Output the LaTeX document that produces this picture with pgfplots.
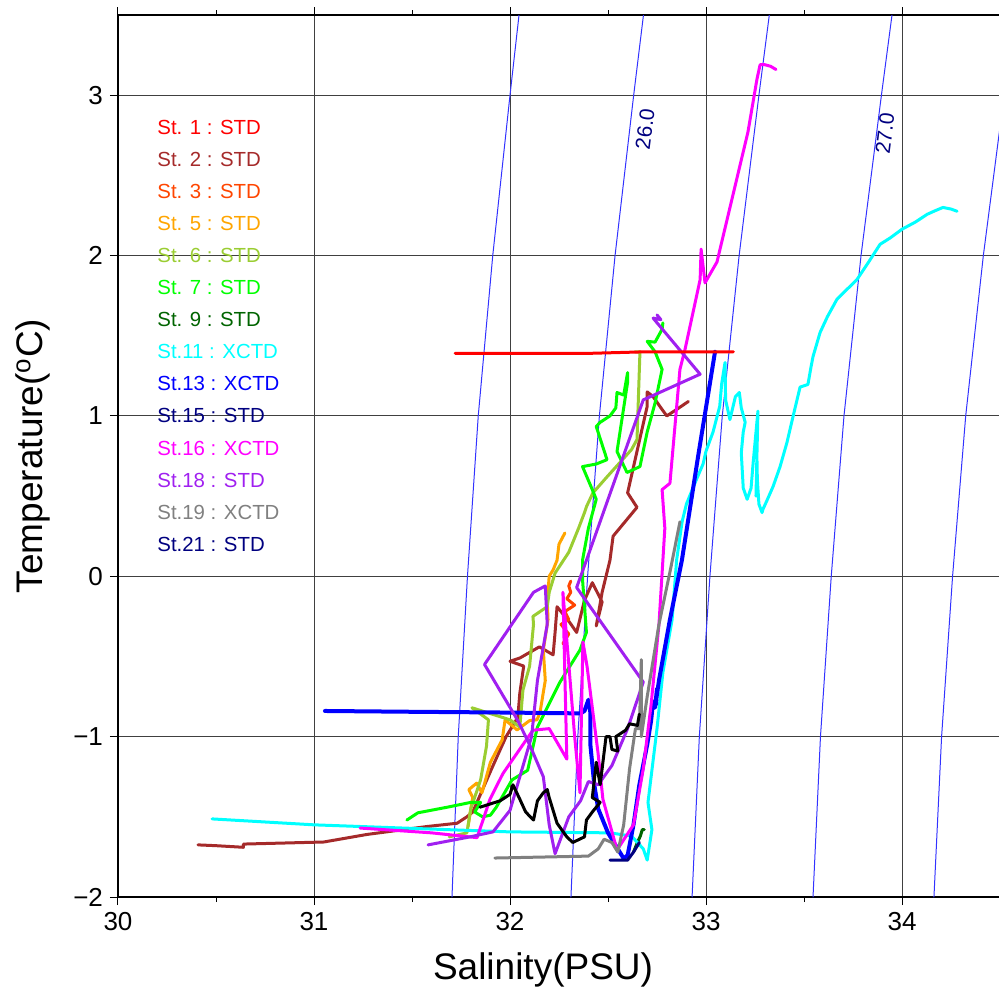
\documentclass[border=0pt]{standalone}
\usepackage{fontspec}
\setmainfont{Liberation Sans}
\usepackage{pgfplots}
\pgfplotsset{compat=1.18}
\definecolor{cA}{RGB}{255,0,0}
\definecolor{cB}{RGB}{165,42,42}
\definecolor{cC}{RGB}{255,69,0}
\definecolor{cD}{RGB}{255,165,0}
\definecolor{cE}{RGB}{154,205,50}
\definecolor{cF}{RGB}{0,255,0}
\definecolor{cG}{RGB}{0,100,0}
\definecolor{cH}{RGB}{0,255,255}
\definecolor{cI}{RGB}{0,0,255}
\definecolor{cJ}{RGB}{0,0,128}
\definecolor{cK}{RGB}{255,0,255}
\definecolor{cL}{RGB}{160,32,240}
\definecolor{cM}{RGB}{128,128,128}
\definecolor{cont}{RGB}{50,50,255}
\begin{document}
\begin{tikzpicture}
\begin{axis}[
  at={(0,0)}, anchor=south west,
  scale only axis, width=441pt, height=441pt,
  xmin=30, xmax=34.5, ymin=-2, ymax=3.5,
  axis line style={line width=1.4pt},
  xtick={30,31,32,33,34}, ytick={-2,-1,0,1,2,3},
  yticklabels={−2,−1,0,1,2,3},
  xticklabels={30,31,32,33,34},
  minor xtick={30.5,31.5,32.5,33.5},
  tick align=outside, major tick length=4pt, minor tick length=2.5pt,
  tick style={black, line width=0.5pt},
  grid=major, major grid style={black!75, line width=0.5pt},
  ticklabel style={font=\fontsize{13}{15}\selectfont},
  xlabel={Salinity(PSU)}, ylabel={Temperature(\textsuperscript{o}C)},
  every axis x label/.style={at={(axis description cs:0.5,-0.083)}, anchor=center, xshift=-8pt, font=\fontsize{18.5}{22}\selectfont},
  every axis y label/.style={at={(axis description cs:-0.096,0.5)}, rotate=90, anchor=center, font=\fontsize{18.5}{22}\selectfont},
  every axis plot/.append style={line join=round, line cap=round},
]
% density contours
\addplot[cont, line width=0.5pt] coordinates {(31.704,-2) (31.736,-1) (31.783,0) (31.838,1) (31.912,2) (32.0,3) (32.046,3.5)};
\addplot[cont, line width=0.5pt] coordinates {(32.311,-2) (32.346,-1) (32.396,0) (32.456,1) (32.536,2) (32.631,3) (32.681,3.5)};
\addplot[cont, line width=0.5pt] coordinates {(32.929,-2) (32.966,-1) (33.02,0) (33.083,1) (33.169,2) (33.27,3) (33.323,3.5)};
\addplot[cont, line width=0.5pt] coordinates {(33.546,-2) (33.584,-1) (33.639,0) (33.704,1) (33.791,2) (33.895,3) (33.949,3.5)};
\addplot[cont, line width=0.5pt] coordinates {(34.163,-2) (34.202,-1) (34.258,0) (34.325,1) (34.415,2) (34.521,3) (34.577,3.5)};
\node[rotate=83, text=cJ, font=\fontsize{10.5}{12}\selectfont] at (axis cs:32.689,2.79) {26.0};
\node[rotate=83, text=cJ, font=\fontsize{10.5}{12}\selectfont] at (axis cs:33.913,2.76) {27.0};
% St.2 brown
\addplot[cB, line width=1.5pt] coordinates {(30.408,-1.675) (30.5,-1.68) (30.64,-1.69) (30.64,-1.67) (31.05,-1.657) (31.27,-1.61) (31.58,-1.56) (31.73,-1.54) (31.78,-1.50) (31.81,-1.47) (31.91,-1.19) (31.98,-1.0) (32.04,-0.88) (32.05,-0.73) (32.07,-0.56) (32.0,-0.53) (32.05,-0.51) (32.15,-0.44) (32.22,-0.49) (32.23,-0.35) (32.24,-0.19) (32.30,-0.28) (32.34,-0.35) (32.38,-0.15) (32.42,-0.04) (32.47,-0.16) (32.44,-0.31) (32.47,-0.10) (32.51,0.10) (32.526,0.25) (32.648,0.43) (32.60,0.52) (32.70,1.06) (32.70,1.15) (32.73,1.12) (32.776,1.04) (32.80,1.0) (32.85,1.04) (32.91,1.09)};
% St.3 orangered
\addplot[cC, line width=1.5pt] coordinates {(32.27,-0.42) (32.30,-0.36) (32.26,-0.30) (32.30,-0.27) (32.28,-0.22) (32.33,-0.18) (32.29,-0.14) (32.31,-0.10) (32.30,-0.06) (32.31,-0.03)};
% St.5 orange
\addplot[cD, line width=1.5pt] coordinates {(31.786,-1.56) (31.80,-1.45) (31.81,-1.38) (31.79,-1.33) (31.83,-1.29) (31.857,-1.35) (31.90,-1.16) (31.96,-1.02) (31.975,-0.895) (32.036,-0.958) (32.10,-0.90) (32.138,-0.895) (32.153,-0.85) (32.18,-0.65) (32.17,-0.46) (32.194,-0.27) (32.19,-0.15) (32.2,0.0) (32.22,0.04) (32.24,0.10) (32.25,0.20) (32.28,0.27)};
% St.6 yellowgreen
\addplot[cE, line width=1.5pt] coordinates {(31.69,-1.625) (31.78,-1.60) (31.80,-1.45) (31.85,-1.27) (31.88,-1.06) (31.89,-0.895) (31.806,-0.82) (32.0,-0.895) (32.05,-0.94) (32.066,-0.71) (32.1,-0.56) (32.12,-0.30) (32.117,-0.25) (32.19,-0.19) (32.2,-0.10) (32.23,0.02) (32.30,0.15) (32.35,0.30) (32.38,0.397) (32.39,0.434) (32.423,0.52) (32.495,0.62) (32.62,0.79) (32.648,0.853) (32.663,1.40) (32.637,1.40)};
% St.7 green
\addplot[cF, line width=1.5pt] coordinates {(31.474,-1.52) (31.53,-1.475) (31.68,-1.44) (31.80,-1.41) (31.85,-1.41) (31.82,-1.47) (31.86,-1.50) (31.90,-1.49) (31.93,-1.44) (32.01,-1.27) (32.09,-1.21) (32.14,-0.94) (32.255,-0.66) (32.357,-0.46) (32.39,-0.35) (32.37,-0.02) (32.37,0.10) (32.40,0.30) (32.44,0.48) (32.42,0.54) (32.37,0.684) (32.44,0.70) (32.495,0.727) (32.44,0.934) (32.46,0.96) (32.51,1.0) (32.54,1.05) (32.546,1.146) (32.58,1.13) (32.6,1.27) (32.6,1.21) (32.546,0.778) (32.597,0.647) (32.663,0.684) (32.70,0.90) (32.74,1.08) (32.776,1.29) (32.74,1.40) (32.70,1.465) (32.74,1.46) (32.776,1.54) (32.78,1.58)};
% St.9 darkgreen
\addplot[cG, line width=1.5pt] coordinates {(32.63,-1.72) (32.65,-1.66) (32.665,-1.62) (32.675,-1.58) (32.685,-1.58)};
% St.11 cyan
\addplot[cH, line width=1.5pt] coordinates {(34.281,2.276) (34.25,2.29) (34.209,2.30) (34.17,2.28) (34.128,2.257) (34.07,2.21) (34.0,2.164) (33.94,2.11) (33.888,2.07) (33.83,1.96) (33.77,1.85) (33.72,1.79) (33.668,1.727) (33.62,1.62) (33.582,1.52) (33.546,1.37) (33.535,1.30) (33.52,1.196) (33.48,1.18) (33.444,0.996) (33.413,0.834) (33.378,0.684) (33.342,0.559) (33.31,0.47) (33.29,0.416) (33.286,0.397) (33.27,0.45) (33.262,0.60) (33.26,0.73) (33.255,0.50) (33.265,1.03) (33.24,0.70) (33.23,0.55) (33.21,0.48) (33.19,0.55) (33.18,0.77) (33.19,0.90) (33.20,0.96) (33.18,1.05) (33.17,1.146) (33.15,1.12) (33.122,0.977) (33.10,1.10) (33.097,1.333) (33.08,1.20) (33.07,1.06) (33.036,0.90) (33.0,0.78) (32.985,0.70) (32.95,0.60) (32.90,0.45) (32.878,0.34) (32.85,0.10) (32.827,-0.27) (32.78,-0.60) (32.75,-0.95) (32.72,-1.25) (32.704,-1.41) (32.724,-1.58) (32.70,-1.77) (32.68,-1.70) (32.62,-1.62) (32.51,-1.60) (32.0,-1.594) (31.0,-1.55) (30.48,-1.513)};
% St.13 blue
\addplot[cI, line width=2pt] coordinates {(31.056,-0.84) (31.5,-0.845) (32.0,-0.85) (32.36,-0.855) (32.38,-0.84) (32.40,-0.77) (32.41,-0.85) (32.41,-1.05) (32.43,-1.30) (32.45,-1.45) (32.50,-1.60) (32.55,-1.70) (32.58,-1.76) (32.60,-1.74) (32.63,-1.55) (32.66,-1.30) (32.70,-1.05) (32.72,-0.90) (32.73,-0.78) (32.745,-0.80) (32.75,-0.70) (32.74,-0.82) (32.76,-0.65) (32.816,-0.27) (32.877,0.10) (32.96,0.75) (33.046,1.40)};
% St.15 navy
\addplot[cJ, line width=1.5pt] coordinates {(32.51,-1.77) (32.60,-1.77) (32.63,-1.72) (32.66,-1.66)};
% St.16 magenta
\addplot[cK, line width=1.5pt] coordinates {(33.357,3.16) (33.33,3.18) (33.30,3.19) (33.276,3.19) (33.26,3.10) (33.214,2.77) (33.056,1.96) (32.995,1.83) (32.975,2.04) (32.97,1.85) (32.893,1.415) (32.867,1.29) (32.816,0.58) (32.776,0.54) (32.79,0.30) (32.78,0.10) (32.76,-0.3) (32.72,-0.8) (32.68,-1.2) (32.63,-1.55) (32.546,-1.707) (32.474,-1.39) (32.449,-1.10) (32.393,-0.56) (32.372,-0.41) (32.357,-1.35) (32.33,-1.0) (32.27,-0.10) (32.29,-1.14) (32.2,-0.95) (32.117,-0.96) (31.964,-1.23) (31.898,-1.39) (31.832,-1.63) (31.6,-1.60) (31.235,-1.57)};
% St.18 purple
\addplot[cL, line width=1.5pt] coordinates {(32.75,1.63) (32.77,1.60) (32.73,1.61) (32.97,1.26) (32.68,1.10) (32.39,0.10) (32.34,-0.07) (32.68,-0.66) (32.60,-0.95) (32.52,-1.18) (32.45,-1.30) (32.40,-1.28) (32.36,-1.40) (32.30,-1.50) (32.23,-1.73) (32.20,-1.55) (32.17,-1.25) (32.10,-1.05) (32.04,-0.90) (31.87,-0.55) (32.12,-0.10) (32.18,-0.06) (32.19,-0.30) (32.14,-0.65) (32.11,-1.0) (32.0,-1.46) (31.913,-1.594) (31.796,-1.625) (31.582,-1.675)};
% St.19 gray
\addplot[cM, line width=1.5pt] coordinates {(31.923,-1.757) (32.4,-1.745) (32.45,-1.70) (32.48,-1.64) (32.52,-1.66) (32.55,-1.72) (32.58,-1.55) (32.61,-1.2) (32.64,-0.95) (32.66,-0.95) (32.67,-0.52) (32.67,-1.0) (32.70,-0.75) (32.76,-0.3) (32.82,0.05) (32.867,0.34)};
% black
\addplot[black, line width=1.5pt] coordinates {(31.847,-1.44) (31.95,-1.40) (32.0,-1.36) (32.015,-1.30) (32.05,-1.39) (32.08,-1.47) (32.12,-1.52) (32.14,-1.40) (32.17,-1.35) (32.19,-1.33) (32.2,-1.38) (32.24,-1.54) (32.29,-1.625) (32.32,-1.66) (32.38,-1.625) (32.39,-1.52) (32.42,-1.47) (32.46,-1.41) (32.42,-1.38) (32.44,-1.16) (32.46,-1.30) (32.48,-1.10) (32.49,-1.0) (32.51,-1.0) (32.52,-1.08) (32.55,-1.09) (32.54,-1.0) (32.59,-0.96) (32.61,-0.92) (32.65,-0.93) (32.66,-0.86)};
% St.1 red
\addplot[cA, line width=1.5pt] coordinates {(31.72,1.39) (32.4,1.39) (32.7,1.40) (33.14,1.40)};
% legend texts
\begin{scope}[every node/.style={anchor=west, inner sep=0pt, font=\fontsize{10.2}{12}\selectfont}]
\node[text=cA] at (axis cs:30.199,2.8) {St. 1 : STD};
\node[text=cB] at (axis cs:30.199,2.6) {St. 2 : STD};
\node[text=cC] at (axis cs:30.199,2.4) {St. 3 : STD};
\node[text=cD] at (axis cs:30.199,2.2) {St. 5 : STD};
\node[text=cE] at (axis cs:30.199,2.0) {St. 6 : STD};
\node[text=cF] at (axis cs:30.199,1.8) {St. 7 : STD};
\node[text=cG] at (axis cs:30.199,1.6) {St. 9 : STD};
\node[text=cH] at (axis cs:30.199,1.4) {St.11 : XCTD};
\node[text=cI] at (axis cs:30.199,1.2) {St.13 : XCTD};
\node[text=cJ] at (axis cs:30.199,1.0) {St.15 : STD};
\node[text=cK] at (axis cs:30.199,0.8) {St.16 : XCTD};
\node[text=cL] at (axis cs:30.199,0.6) {St.18 : STD};
\node[text=cM] at (axis cs:30.199,0.4) {St.19 : XCTD};
\node[text=cJ] at (axis cs:30.199,0.2) {St.21 : STD};
\end{scope}
\end{axis}
\pgfresetboundingbox
\path (-59pt,-54.5pt) rectangle (440pt,448.5pt);
\end{tikzpicture}
\end{document}
